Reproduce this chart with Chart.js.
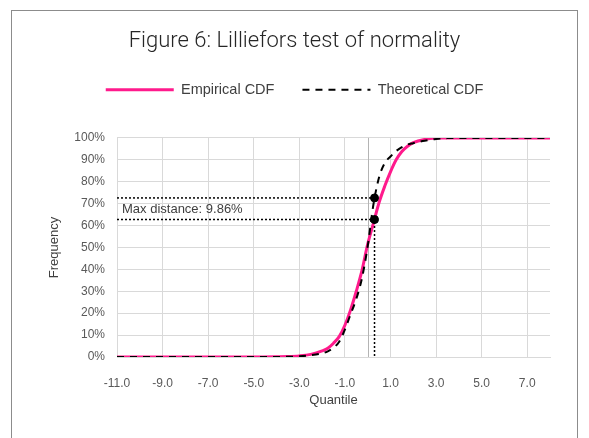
<!DOCTYPE html>
<html>
<head>
<meta charset="utf-8">
<script src="https://cdn.jsdelivr.net/npm/chart.js@4.4.1/dist/chart.umd.min.js"></script>
<style>
  body { margin: 0; background: #fff; }
  #wrap { width: 589px; height: 438px; }
</style>
</head>
<body>
<div id="wrap"><canvas id="chart" width="589" height="438"></canvas></div>
<script>
const quantiles = [-11, -5, -4, -3.5, -3, -2.5, -2, -1.75, -1.5, -1.25, -1, -0.75, -0.5, -0.25, 0, 0.25, 0.5, 0.75, 1, 1.25, 1.5, 1.75, 2, 2.5, 3, 3.5, 8];
const empiricalCdf = [0, 0, 0.1, 0.2, 0.5, 1.2, 2.8, 4, 6.3, 9.3, 14.5, 21.5, 30, 39.5, 51.5, 61, 70.5, 78, 84.5, 90, 93.8, 96.2, 97.8, 99.3, 99.9, 100, 100];
const theoreticalCdf = [0, 0, 0, 0.1, 0.3, 0.8, 1.7, 2.6, 4.2, 7, 12.5, 19.5, 26.5, 36, 50.5, 69.5, 82, 88.5, 91.5, 94, 95.8, 97, 97.6, 98.7, 99.5, 99.9, 100];

const xTicks = [-11, -9, -7, -5, -3, -1, 1, 3, 5, 7];
const yTicks = [0, 10, 20, 30, 40, 50, 60, 70, 80, 90, 100];

// max distance point
const maxAt = 0.3;
const theoAtMax = 72.6;
const empAtMax = 62.74;
const maxLabel = 'Max distance: 9.86%';

const FONT = "'Liberation Sans', Arial, sans-serif";
const TITLE_FONT = "Roboto, 'Liberation Sans', sans-serif";

function pts(ys) {
    return quantiles.map(function (q, i) { return { x: q, y: ys[i] }; });
}

const framePlugin = {
    id: 'frame',
    beforeDraw: function (chart) {
        const ctx = chart.ctx;
        ctx.save();
        ctx.fillStyle = '#fff';
        ctx.fillRect(0, 0, chart.width, chart.height);
        ctx.strokeStyle = '#8c8c8c';
        ctx.lineWidth = 1;
        ctx.strokeRect(11.5, 10.5, 566, 460);
        ctx.restore();
    },
    beforeDatasetsDraw: function (chart) {
        // vertical axis crosses at 0
        const ctx = chart.ctx;
        const xs = chart.scales.x, ys = chart.scales.y;
        const px = Math.round(xs.getPixelForValue(0)) + 0.5;
        ctx.save();
        ctx.strokeStyle = '#b4b4b4';
        ctx.lineWidth = 1;
        ctx.beginPath();
        ctx.moveTo(px, ys.getPixelForValue(100));
        ctx.lineTo(px, ys.getPixelForValue(0));
        ctx.stroke();
        ctx.restore();
    },
    afterDatasetsDraw: function (chart) {
        const ctx = chart.ctx;
        const xs = chart.scales.x, ys = chart.scales.y;
        ctx.save();
        ctx.fillStyle = '#404040';
        ctx.font = '13px ' + FONT;
        ctx.textBaseline = 'middle';
        ctx.fillText(maxLabel, xs.getPixelForValue(-11) + 5, ys.getPixelForValue((theoAtMax + empAtMax) / 2) + 1);
        ctx.restore();
    }
};

const ctx = document.getElementById('chart').getContext('2d');
new Chart(ctx, {
    type: 'scatter',
    data: {
        datasets: [
            {
                label: 'Empirical CDF',
                data: pts(empiricalCdf),
                showLine: true,
                borderColor: '#ff1a8c',
                backgroundColor: '#ff1a8c',
                borderWidth: 3,
                pointRadius: 0,
                cubicInterpolationMode: 'monotone',
                order: 3
            },
            {
                label: 'Theoretical CDF',
                data: pts(theoreticalCdf),
                showLine: true,
                borderColor: '#000',
                backgroundColor: '#000',
                borderWidth: 2,
                borderDash: [7, 6],
                pointRadius: 0,
                cubicInterpolationMode: 'monotone',
                order: 2
            },
            {
                label: 'guideTop',
                data: [{ x: xTicks[0], y: theoAtMax }, { x: maxAt, y: theoAtMax }],
                showLine: true,
                borderColor: '#000',
                borderWidth: 1.5,
                borderDash: [2, 2],
                pointRadius: 0,
                order: 1
            },
            {
                label: 'guideLow',
                data: [{ x: xTicks[0], y: empAtMax }, { x: maxAt, y: empAtMax }, { x: maxAt, y: 0 }],
                showLine: true,
                borderColor: '#000',
                borderWidth: 1.5,
                borderDash: [2, 2],
                pointRadius: 0,
                tension: 0,
                order: 1
            },
            {
                label: 'dots',
                data: [{ x: maxAt, y: theoAtMax }, { x: maxAt, y: empAtMax }],
                showLine: false,
                backgroundColor: '#000',
                borderColor: '#000',
                pointRadius: 4,
                order: 0
            }
        ]
    },
    options: {
        responsive: false,
        animation: false,
        layout: { padding: 0 },
        plugins: {
            title: {
                display: true,
                text: 'Figure 6: Lilliefors test of normality',
                color: '#262626',
                font: { family: TITLE_FONT, size: 22, weight: 300, lineHeight: 1.2 },
                padding: { top: 28, bottom: 0 }
            },
            subtitle: {
                // spacer between legend and plot
                display: true,
                text: '',
                weight: 500,
                font: { size: 10, lineHeight: 1 },
                padding: { top: 10, bottom: 11 }
            },
            legend: {
                display: true,
                labels: {
                    filter: function (item) { return item.datasetIndex < 2; },
                    sort: function (a, b) { return a.datasetIndex - b.datasetIndex; },
                    generateLabels: function (chart) {
                        const items = Chart.defaults.plugins.legend.labels.generateLabels(chart);
                        items.forEach(function (it) {
                            const ds = chart.data.datasets[it.datasetIndex];
                            it.lineDash = ds.borderDash || [];
                            it.lineWidth = ds.borderWidth;
                            it.strokeStyle = ds.borderColor;
                        });
                        return items;
                    },
                    usePointStyle: true,
                    pointStyle: 'line',
                    pointStyleWidth: 68,
                    padding: 28,
                    color: '#404040',
                    font: { family: FONT, size: 14.5 }
                }
            },
            tooltip: { enabled: false }
        },
        scales: {
            x: {
                type: 'linear',
                min: -11,
                max: 8,
                afterBuildTicks: function (scale) {
                    scale.ticks = xTicks.map(function (v) { return { value: v }; });
                },
                afterFit: function (scale) { scale.height = 81; },
                grid: { color: '#d9d9d9', drawTicks: false },
                border: { color: '#d9d9d9' },
                ticks: {
                    padding: 19,
                    color: '#595959',
                    font: { family: FONT, size: 12 },
                    maxRotation: 0,
                    callback: function (v) { return Number(v).toFixed(1); }
                },
                title: {
                    display: true,
                    text: 'Quantile',
                    color: '#404040',
                    font: { family: FONT, size: 13 },
                    padding: { top: 0, bottom: 30 }
                }
            },
            y: {
                type: 'linear',
                min: 0,
                max: 100,
                afterBuildTicks: function (scale) {
                    scale.ticks = yTicks.map(function (v) { return { value: v }; });
                },
                afterFit: function (scale) { scale.width = 117; },
                grid: { color: '#d9d9d9', drawTicks: false },
                border: { color: '#d9d9d9' },
                ticks: {
                    padding: 12,
                    color: '#595959',
                    font: { family: FONT, size: 12 },
                    callback: function (v) { return v + '%'; }
                },
                title: {
                    display: true,
                    text: 'Frequency',
                    color: '#404040',
                    font: { family: FONT, size: 13 },
                    padding: { top: 47, bottom: 0 }
                }
            },
            // empty right-hand box keeps the plot 39px from the edge
            yRight: {
                position: 'right',
                display: true,
                grid: { display: false },
                border: { display: false },
                ticks: { display: false },
                afterFit: function (scale) { scale.width = 39; }
            }
        }
    },
    plugins: [framePlugin]
});
</script>
</body>
</html>
